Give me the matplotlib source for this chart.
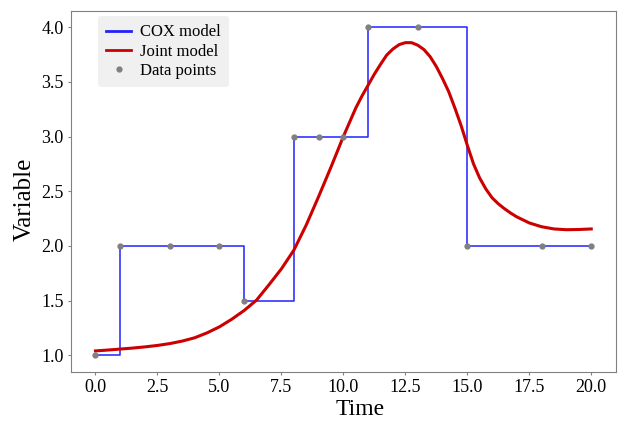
import matplotlib
matplotlib.use('Agg')
from matplotlib import pyplot as plt
import numpy as np

plt.rcParams['font.family'] = ['Liberation Serif', 'DejaVu Serif']

# observed data points (also define the COX step function)
time_pts = [0, 1, 3, 5, 6, 8, 9, 10, 11, 13, 15, 18, 20]
var_pts = [1.0, 2.0, 2.0, 2.0, 1.5, 3.0, 3.0, 3.0, 4.0, 4.0, 2.0, 2.0, 2.0]

# joint model curve
joint_t = [0, 0.5, 1, 1.5, 2, 2.5, 3, 3.5, 4, 4.5, 5, 5.5, 6, 6.5, 7, 7.5,
           8, 8.5, 9, 9.5, 10, 10.25, 10.5, 10.75, 11, 11.25, 11.5, 11.75,
           12, 12.25, 12.5, 12.75, 13, 13.25, 13.5, 13.75, 14, 14.25, 14.5,
           14.75, 15, 15.25, 15.5, 15.75, 16, 16.25, 16.5, 16.75, 17, 17.5,
           18, 18.5, 19, 19.5, 20]
joint_y = [1.04, 1.048, 1.057, 1.066, 1.077, 1.09, 1.107, 1.13, 1.16, 1.205,
           1.26, 1.33, 1.41, 1.505, 1.645, 1.79, 1.96, 2.19, 2.45, 2.72,
           3.0, 3.13, 3.26, 3.37, 3.47, 3.57, 3.66, 3.745,
           3.8, 3.84, 3.858, 3.858, 3.835, 3.795, 3.73, 3.64, 3.53, 3.41, 3.26,
           3.1, 2.92, 2.75, 2.62, 2.52, 2.44, 2.385, 2.34, 2.3, 2.265, 2.21,
           2.175, 2.155, 2.148, 2.15, 2.155]

fig = plt.figure(figsize=(6.18, 4.22), dpi=100)
ax = fig.add_axes([0.1144, 0.1192, 0.8824, 0.8554])

ax.step(time_pts, var_pts, where='post', color='#2222ff', lw=1.1, label='COX model')
ax.plot(joint_t, joint_y, color='#cc0000', lw=2.2, label='Joint model',
        solid_joinstyle='round')
ax.plot(time_pts, var_pts, 'o', color='gray', ms=3.5, label='Data points')

ax.set_xticks([0, 2.5, 5, 7.5, 10, 12.5, 15, 17.5, 20])
ax.set_yticks([1.0, 1.5, 2.0, 2.5, 3.0, 3.5, 4.0])
ax.set_xlim(-1, 21)
ax.set_ylim(0.85, 4.15)

for s in ax.spines.values():
    s.set_color('gray')
ax.tick_params(labelsize=13, length=2, color='gray', pad=3)

ax.set_xlabel('Time', fontsize=17)
ax.set_ylabel('Variable', fontsize=18)
ax.xaxis.set_label_coords(0.531, -0.075)
ax.yaxis.set_label_coords(-0.064, 0.478)

leg = ax.legend(loc='upper left', fontsize=12, frameon=True, fancybox=True,
                handlelength=1.5, handletextpad=0.5, borderpad=0.5,
                labelspacing=0.2, bbox_to_anchor=(0.035, 1.008))
leg.get_frame().set_facecolor('#f0f0f0')
leg.get_frame().set_edgecolor('none')
leg.get_frame().set_alpha(1)
for line in leg.get_lines()[:2]:
    line.set_linewidth(2)

fig.savefig('out.png', dpi=100)
